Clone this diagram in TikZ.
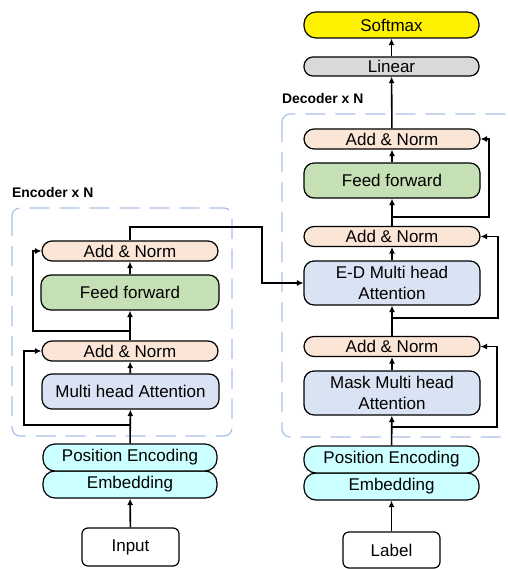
\documentclass[tikz,border=0pt]{standalone}
\usepackage{fontspec}
\setmainfont{Liberation Sans}
\usepackage{tikz}
\usetikzlibrary{calc, positioning, arrows.meta}

\definecolor{normfill}{RGB}{251,229,214}
\definecolor{fffill}{RGB}{197,224,180}
\definecolor{attfill}{RGB}{218,227,243}
\definecolor{embfill}{RGB}{204,255,255}
\definecolor{linfill}{RGB}{217,217,217}
\definecolor{boxline}{RGB}{170,192,230}

\tikzset{
  blk/.style = {draw, line width = 1.2pt, inner sep = 0pt, align = center,
    font = \fontsize{17}{21}\selectfont},
  normblk/.style = {blk, fill = normfill, rounded corners = 10pt,
    minimum width = 176pt, minimum height = 20pt},
  arr/.style = {line width = 1.6pt, -{Latex[length = 6.5pt, width = 6pt]}},
  res/.style = {line width = 1.1pt, -{Latex[length = 6.5pt, width = 6pt]}},
  layerbox/.style = {boxline, line width = 1.2pt, dash pattern = on 20pt off 10pt,
    rounded corners = 8pt},
  title/.style = {font = \fontsize{13.9}{16}\selectfont\bfseries, anchor = west, inner sep = 0pt}
}

\begin{document}
\begin{tikzpicture}[x = 1pt, y = -1pt]
  \useasboundingbox (0, 0) rectangle (507, 569);
  \clip (0, 0) rectangle (507, 569);

  % 枠
  \draw [layerbox] (12, 208) rectangle (232, 436);		% Encoder
  \draw [layerbox] (282, 114) rectangle (530, 437);		% Decoder
  \node [title] (encTitle) at (12, 193) {Encoder x N};
  \node [title] (decTitle) at (282, 99) {Decoder x N};

  % Encoder
  \node [blk, fill = white, rounded corners = 6pt, minimum width = 97pt, minimum height = 38pt]
    (input) at (130.5, 547) {Input};
  \node [blk, fill = embfill, rounded corners = 12pt, minimum width = 174pt, minimum height = 27pt]
    (encEmb) at (130, 484.5) {Embedding};
  \node [blk, fill = embfill, rounded corners = 12pt, minimum width = 174pt, minimum height = 27pt]
    (encPE) at (130, 457.5) {Position Encoding};
  \node [blk, fill = attfill, rounded corners = 10pt, minimum width = 177pt, minimum height = 35pt]
    (encMHA) at (130.5, 391.5) {Multi head Attention};
  \node [normblk] (encAN1) at (130, 351) {Add \& Norm};
  \node [blk, fill = fffill, rounded corners = 10pt, minimum width = 178pt, minimum height = 35pt]
    (encFF) at (130, 292.5) {Feed forward};
  \node [normblk] (encAN2) at (130, 251) {Add \& Norm};

  % Decoder
  \node [blk, fill = white, rounded corners = 6pt, minimum width = 97pt, minimum height = 36pt]
    (label) at (391.5, 550) {Label};
  \node [blk, fill = embfill, rounded corners = 12pt, minimum width = 175pt, minimum height = 27pt]
    (decEmb) at (391.5, 486.5) {Embedding};
  \node [blk, fill = embfill, rounded corners = 12pt, minimum width = 175pt, minimum height = 27pt]
    (decPE) at (391.5, 459.5) {Position Encoding};
  \node [blk, fill = attfill, rounded corners = 10pt, minimum width = 176pt, minimum height = 44pt]
    (decMask) at (392, 393) {Mask Multi head\\Attention};
  \node [normblk] (decAN1) at (392, 346.5) {Add \& Norm};
  \node [blk, fill = attfill, rounded corners = 10pt, minimum width = 176pt, minimum height = 44pt]
    (decED) at (392, 283) {E-D Multi head\\Attention};
  \node [normblk] (decAN2) at (392, 236.5) {Add \& Norm};
  \node [blk, fill = fffill, rounded corners = 10pt, minimum width = 176pt, minimum height = 35pt]
    (decFF) at (392, 180.5) {Feed forward};
  \node [normblk] (decAN3) at (392, 139) {Add \& Norm};
  \node [blk, fill = linfill, rounded corners = 9pt, minimum width = 175pt, minimum height = 19pt]
    (linear) at (391.5, 66.5) {Linear};
  \node [blk, fill = yellow, rounded corners = 12pt, minimum width = 175pt, minimum height = 26pt]
    (softmax) at (391.5, 25) {Softmax};

  % 分岐点
  \coordinate (encS1) at (130, 425);
  \coordinate (encC1) at (24, 425);
  \coordinate (encS2) at (130, 331);
  \coordinate (encC2) at (33, 331);
  \coordinate (encOut) at (130, 227);
  \coordinate (encOutR) at (262, 227);
  \coordinate (decS1) at (392, 427);
  \coordinate (decC1) at (497, 427);
  \coordinate (decS2) at (392, 318);
  \coordinate (decC2) at (498, 318);
  \coordinate (decS3) at (392, 217);
  \coordinate (decC3) at (489, 217);

  % Encoder の矢印
  \draw [arr] (input) -- (encEmb);
  \draw [arr] (encPE) -- (encMHA);
  \draw [arr] (encMHA) -- (encAN1);
  \draw [arr] (encAN1) -- (encFF);
  \draw [arr] (encFF) -- (encAN2);
  \draw [res] (encS1) -- (encC1) |- (encAN1.west);		% 残差
  \draw [res] (encS2) -- (encC2) |- (encAN2.west);
  \draw [res] (encAN2.north) -- (encOut) -- (encOutR) |- (decED.west);	% Encoder 出力

  % Decoder の矢印
  \draw [arr] (label) -- (decEmb);
  \draw [arr] (decPE) -- (decMask);
  \draw [arr] (decMask) -- (decAN1);
  \draw [arr] (decAN1) -- (decED);
  \draw [arr] (decED) -- (decAN2);
  \draw [arr] (decAN2) -- (decFF);
  \draw [arr] (decFF) -- (decAN3);
  \draw [arr] (decAN3) -- (linear);
  \draw [arr] (linear) -- (softmax);
  \draw [res] (decS1) -- (decC1) |- (decAN1.east);		% 残差
  \draw [res] (decS2) -- (decC2) |- (decAN2.east);
  \draw [res] (decS3) -- (decC3) |- (decAN3.east);
\end{tikzpicture}
\end{document}
